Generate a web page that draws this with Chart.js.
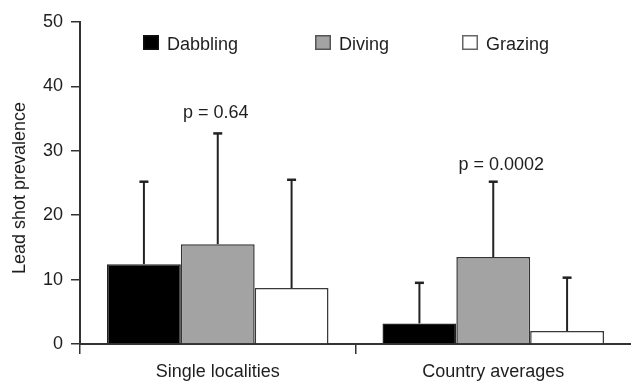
<!DOCTYPE html>
<html>
<head>
<meta charset="utf-8">
<script src="https://cdn.jsdelivr.net/npm/chart.js@4.4.1/dist/chart.umd.min.js"></script>
<style>
  html, body { margin: 0; padding: 0; background: #fff; }
  #wrap { width: 631px; height: 381px; position: relative; }
</style>
</head>
<body>
<div id="wrap"><canvas id="chart" width="631" height="381"></canvas></div>
<script>
// Lead shot prevalence by feeding guild
const categories = ['Single localities', 'Country averages'];
const seriesNames = ['Dabbling', 'Diving', 'Grazing'];

const dabbling = [12.4, 3.2];
const diving = [15.5, 13.5];
const grazing = [8.7, 2.0];

// upper error (SD) for each bar
const dabblingErr = [12.8, 6.3];
const divingErr = [17.2, 11.7];
const grazingErr = [16.8, 8.3];

const pValues = ['p = 0.64', 'p = 0.0002'];

const yTicks = [0, 10, 20, 30, 40, 50];
const yTitle = 'Lead shot prevalence';

const FONT = '"Liberation Sans", Arial, Helvetica, sans-serif';
const INK = '#1e1e1e';
const SIZE = 18;

// one-sided (upward) error bars
const errorBars = {
  id: 'errorBars',
  afterDatasetsDraw(chart) {
    const ctx = chart.ctx;
    const y = chart.scales.y;
    ctx.save();
    ctx.strokeStyle = '#222';
    chart.data.datasets.forEach((ds, i) => {
      const meta = chart.getDatasetMeta(i);
      meta.data.forEach((bar, j) => {
        const top = y.getPixelForValue(ds.data[j] + ds.errors[j]);
        const base = y.getPixelForValue(ds.data[j]);
        ctx.lineWidth = 2;
        ctx.beginPath();
        ctx.moveTo(bar.x, base);
        ctx.lineTo(bar.x, top);
        ctx.stroke();
        ctx.lineWidth = 2.5;
        ctx.beginPath();
        ctx.moveTo(bar.x - 4.5, top);
        ctx.lineTo(bar.x + 4.5, top);
        ctx.stroke();
      });
    });
    ctx.restore();
  }
};

// p-value labels above each group
const pLabels = {
  id: 'pLabels',
  afterDatasetsDraw(chart, args, opts) {
    const ctx = chart.ctx;
    const y = chart.scales.y;
    const x = chart.scales.x;
    ctx.save();
    ctx.font = SIZE + 'px ' + FONT;
    ctx.fillStyle = INK;
    ctx.textAlign = 'center';
    ctx.textBaseline = 'alphabetic';
    pValues.forEach((txt, j) => {
      let maxTop = 0;
      chart.data.datasets.forEach(ds => {
        maxTop = Math.max(maxTop, ds.data[j] + ds.errors[j]);
      });
      const py = y.getPixelForValue(maxTop) - opts.gap[j];
      ctx.fillText(txt, x.getPixelForValue(j) + opts.dx[j], py);
    });
    ctx.restore();
  }
};

// rotated y-axis title and legend row across the top
const decorations = {
  id: 'decorations',
  afterDraw(chart, args, opts) {
    const ctx = chart.ctx;
    const area = chart.chartArea;
    ctx.save();
    ctx.font = SIZE + 'px ' + FONT;
    ctx.fillStyle = INK;

    // axis title
    ctx.save();
    ctx.translate(opts.titleX, (area.top + area.bottom) / 2 + opts.titleShift);
    ctx.rotate(-Math.PI / 2);
    ctx.textAlign = 'center';
    ctx.textBaseline = 'alphabetic';
    ctx.fillText(yTitle, 0, 0);
    ctx.restore();

    // legend
    ctx.textBaseline = 'alphabetic';
    ctx.textAlign = 'left';
    chart.data.datasets.forEach((ds, i) => {
      const lx = opts.legendX[i];
      ctx.fillStyle = ds.backgroundColor;
      ctx.fillRect(lx, opts.legendY, 16, 15);
      ctx.strokeStyle = ds.legendBorder;
      ctx.lineWidth = 1.5;
      ctx.strokeRect(lx + 0.75, opts.legendY + 0.75, 14.5, 13.5);
      ctx.fillStyle = INK;
      ctx.fillText(ds.label, lx + 24, opts.legendY + 14.5);
    });
    ctx.restore();
  }
};

new Chart(document.getElementById('chart'), {
  type: 'bar',
  data: {
    labels: categories,
    datasets: [
      { label: seriesNames[0], data: dabbling, errors: dabblingErr,
        backgroundColor: '#000000', borderColor: '#222222', legendBorder: '#111111' },
      { label: seriesNames[1], data: diving, errors: divingErr,
        backgroundColor: '#a3a3a3', borderColor: '#333333', legendBorder: '#555555' },
      { label: seriesNames[2], data: grazing, errors: grazingErr,
        backgroundColor: '#ffffff', borderColor: '#3a3a3a', legendBorder: '#666666' }
    ]
  },
  options: {
    responsive: false,
    animation: false,
    events: [],
    layout: { padding: { top: 22, right: 0, bottom: 0, left: 0 } },
    datasets: {
      bar: {
        categoryPercentage: 0.804,
        barPercentage: 1.0,
        borderWidth: 1.5,
        borderSkipped: 'start'
      }
    },
    plugins: {
      legend: { display: false },
      tooltip: { enabled: false },
      pLabels: { gap: [15, 12], dx: [-2, 8] },
      decorations: { titleX: 25, titleShift: 5, legendX: [143, 315, 462], legendY: 35 }
    },
    scales: {
      x: {
        offset: true,
        grid: {
          offset: true,
          drawOnChartArea: false,
          drawTicks: true,
          tickLength: 10,
          color: (c) => c.type === 'tick' ? '#333' : 'rgba(0,0,0,0)',
          lineWidth: 1.5
        },
        border: { display: true, color: '#333', width: 2 },
        ticks: {
          color: INK,
          font: { family: FONT, size: SIZE },
          padding: 7
        },
        afterFit(scale) { scale.height = 37; }
      },
      y: {
        min: 0,
        max: 50,
        afterBuildTicks(scale) { scale.ticks = yTicks.map(v => ({ value: v })); },
        grid: {
          drawOnChartArea: false,
          drawTicks: true,
          tickLength: 9,
          color: '#333',
          lineWidth: 1.5
        },
        border: { display: true, color: '#333', width: 2 },
        ticks: {
          color: INK,
          font: { family: FONT, size: SIZE },
          padding: 8
        },
        afterFit(scale) { scale.width = 80; }
      }
    }
  },
  plugins: [errorBars, pLabels, decorations]
});
</script>
</body>
</html>
